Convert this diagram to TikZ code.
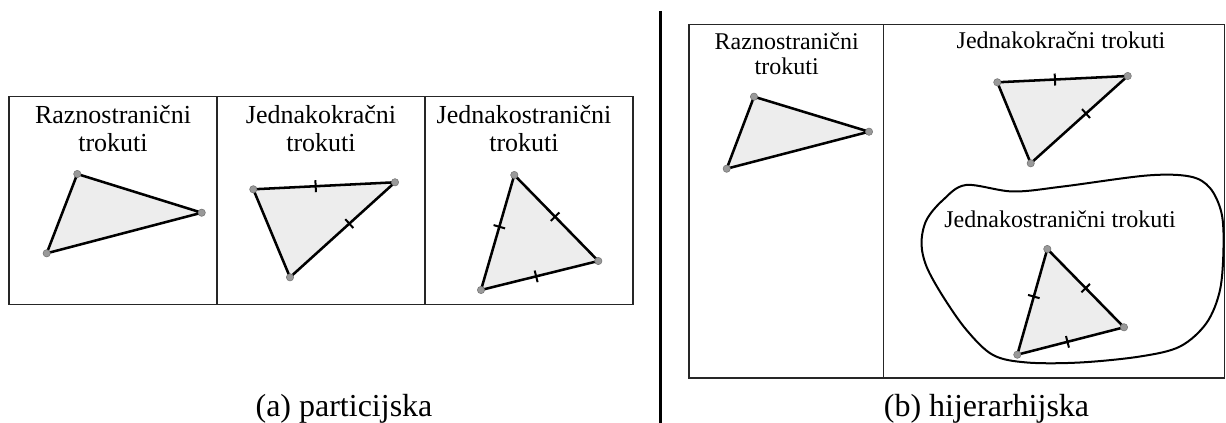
\documentclass[tikz,border=0pt]{standalone}
\usepackage{fontspec}
\setmainfont{Liberation Serif}
\begin{document}
\begin{tikzpicture}[x=0.75pt,y=-0.75pt,
  box/.style={draw=black!85, line width=1.1pt},
  tri/.style={draw=black, fill=black!7, line width=1.9pt, line join=round},
  dot/.style={circle, fill=black!40, draw=black!55, line width=0.4pt, inner sep=0pt, minimum size=5.5pt},
  tickmark/.style={sloped, inner sep=0pt, anchor=center},
  lblA/.style={anchor=base, font=\fontsize{19.5}{22}\selectfont, inner sep=0pt},
  lblB/.style={anchor=base, font=\fontsize{18}{20}\selectfont, inner sep=0pt},
  captxt/.style={anchor=base, font=\fontsize{24}{28}\selectfont, inner sep=0pt},
  blob/.style={draw=black, line width=1.5pt},
  sep/.style={draw=black, line width=2pt}]
\useasboundingbox (0,0) rectangle (1226,423);

% ---------- (a) partition ----------
\draw[box] (9,96.5) rectangle (633,304.5);
\draw[box] (217,96.5) -- (217,304.5);
\draw[box] (425,96.5) -- (425,304.5);

\node[lblA] (a1l1) at (113,123.3) {Raznostranični};
\node[lblA] (a1l2) at (113,151.7) {trokuti};
\node[lblA] (a2l1) at (321,123.3) {Jednakokračni};
\node[lblA] (a2l2) at (321,151.7) {trokuti};
\node[lblA] (a3l1) at (524,123.3) {Jednakostranični};
\node[lblA] (a3l2) at (524,151.7) {trokuti};

% scalene
\coordinate (sa) at (77.3,174);
\coordinate (sb) at (201.7,212.7);
\coordinate (sc) at (46.7,253.3);
\filldraw[tri] (sa) -- (sb) -- (sc) -- cycle;
\foreach \v in {sa,sb,sc} \node[dot] (d\v) at (\v) {};

% isosceles
\coordinate (ia) at (253.3,189.3);
\coordinate (ib) at (395,182.3);
\coordinate (ic) at (290,277.3);
\filldraw[tri] (ia) -- (ib) -- (ic) -- cycle;
\path (ia) -- (ib) node[tickmark,pos=0.44] (it1) {\rule{1.5pt}{9pt}};
\path (ib) -- (ic) node[tickmark,pos=0.435] (it2) {\rule{1.5pt}{9pt}};
\foreach \v in {ia,ib,ic} \node[dot] (d\v) at (\v) {};

% equilateral
\coordinate (ea) at (514.3,175);
\coordinate (eb) at (598.3,261);
\coordinate (ec) at (481,290);
\filldraw[tri] (ea) -- (eb) -- (ec) -- cycle;
\path (ea) -- (ec) node[tickmark,pos=0.45] (et1) {\rule{1.5pt}{9pt}};
\path (ea) -- (eb) node[tickmark,pos=0.485] (et2) {\rule{1.5pt}{9pt}};
\path (ec) -- (eb) node[tickmark,pos=0.47] (et3) {\rule{1.5pt}{9pt}};
\foreach \v in {ea,eb,ec} \node[dot] (d\v) at (\v) {};

\node[captxt] (capa) at (344,416) {(a) particijska};

% separator
\coordinate (septop) at (660.5,11);
\coordinate (sepbot) at (660.5,423);
\draw[sep] (septop) -- (sepbot);

% ---------- (b) hierarchy ----------
\draw[box] (689,24.3) rectangle (1224.5,378);
\draw[box] (883.3,24.3) -- (883.3,378);

\node[lblB] (b1l1) at (786.7,49.3) {Raznostranični};
\node[lblB] (b1l2) at (786.7,75) {trokuti};
\node[lblB] (b2) at (1061,48.3) {Jednakokračni trokuti};

% scalene
\coordinate (Sa) at (754,96.7);
\coordinate (Sb) at (869,131.7);
\coordinate (Sc) at (726.7,168.7);
\filldraw[tri] (Sa) -- (Sb) -- (Sc) -- cycle;
\foreach \v in {Sa,Sb,Sc} \node[dot] (d\v) at (\v) {};

% isosceles
\coordinate (Ia) at (997.3,82.3);
\coordinate (Ib) at (1127.7,76);
\coordinate (Ic) at (1030.7,163.3);
\filldraw[tri] (Ia) -- (Ib) -- (Ic) -- cycle;
\path (Ia) -- (Ib) node[tickmark,pos=0.442] (It1) {\rule{1.5pt}{9pt}};
\path (Ib) -- (Ic) node[tickmark,pos=0.43] (It2) {\rule{1.5pt}{9pt}};
\foreach \v in {Ia,Ib,Ic} \node[dot] (d\v) at (\v) {};

% blob
\draw[blob] plot[smooth cycle, tension=0.55] coordinates {
  (943,200) (966,185) (1013,191.5) (1063,186.5) (1147,175.5) (1190,176.5)
  (1210,188) (1221.5,213) (1223.5,247) (1220,290) (1206.5,323) (1180,346.5)
  (1140,356.5) (1080,362.5) (1027,362.5) (993,355) (966.5,330) (943,296.5)
  (926.5,266.5) (921.5,243) (926.5,220)};

\node[lblB] (b3) at (1060,227.7) {Jednakostranični trokuti};

% equilateral
\coordinate (Ea) at (1047.3,249);
\coordinate (Eb) at (1124,327.3);
\coordinate (Ec) at (1017.3,354.7);
\filldraw[tri] (Ea) -- (Eb) -- (Ec) -- cycle;
\path (Ea) -- (Ec) node[tickmark,pos=0.45] (Et1) {\rule{1.5pt}{9pt}};
\path (Ea) -- (Eb) node[tickmark,pos=0.5] (Et2) {\rule{1.5pt}{9pt}};
\path (Ec) -- (Eb) node[tickmark,pos=0.47] (Et3) {\rule{1.5pt}{9pt}};
\foreach \v in {Ea,Eb,Ec} \node[dot] (d\v) at (\v) {};

\node[captxt] (capb) at (986.5,416) {(b) hijerarhijska};
\end{tikzpicture}
\end{document}
